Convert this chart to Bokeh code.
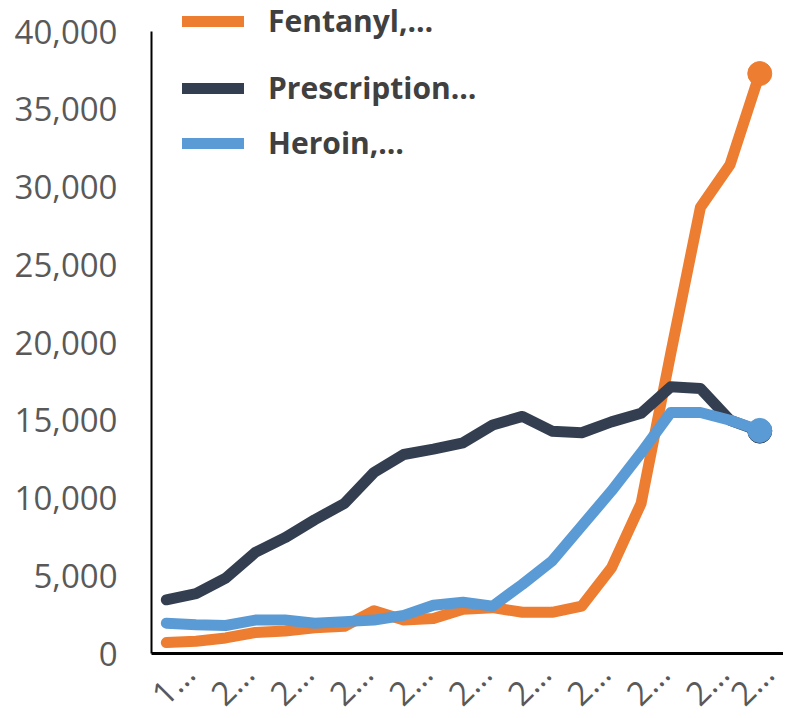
from bokeh.plotting import figure
from bokeh.models import Range1d, FixedTicker, Legend, LegendItem, NumeralTickFormatter
from bokeh.embed import file_html
from bokeh.resources import INLINE
import math

years = list(range(1999, 2020))
fentanyl = [700, 790, 1000, 1350, 1450, 1650, 1750, 2750, 2150, 2250, 2850,
            2950, 2650, 2650, 3050, 5500, 9650, 19300, 28700, 31450, 37300]
prescription = [3450, 3850, 4850, 6500, 7450, 8600, 9650, 11650, 12800, 13150, 13550,
                14700, 15250, 14300, 14200, 14900, 15450, 17150, 17050, 15000, 14300]
heroin = [1950, 1850, 1800, 2150, 2150, 1950, 2050, 2150, 2450, 3100, 3300,
          3050, 4450, 5950, 8200, 10450, 12900, 15500, 15500, 15000, 14350]
series_names = ["Fentanyl,…", "Prescription…", "Heroin,…"]
colors = ["#ED7D31", "#333F50", "#5B9BD5"]
tick_years = list(range(1999, 2020, 2))
tick_text = [str(y)[0] + "…" for y in tick_years]
y_ticks = list(range(0, 40001, 5000))

# rotated labels are centred under their category, as in the original
label_shift = 0.75
tick_pos = [y + label_shift for y in tick_years]

p = figure(frame_width=632, frame_height=653, output_backend="svg", toolbar_location=None,
           x_range=Range1d(1998.5, 2019.8), y_range=Range1d(0, 42000),
           min_border_left=151, min_border_right=0, min_border_top=0, min_border_bottom=55)
p.outline_line_color = None
p.xgrid.visible = False
p.ygrid.visible = False
p.background_fill_color = "white"
p.border_fill_color = "white"

# axes
p.yaxis.ticker = FixedTicker(ticks=y_ticks)
p.yaxis.bounds = (0, 40000)
p.yaxis.formatter = NumeralTickFormatter(format="0,0")
p.yaxis.axis_line_color = "black"
p.yaxis.axis_line_width = 2
p.yaxis.major_tick_line_color = None
p.yaxis.minor_tick_line_color = None
p.yaxis.major_label_text_font = "Open Sans"
p.yaxis.major_label_text_font_size = "33px"
p.yaxis.major_label_text_color = "#595959"
p.yaxis.major_label_standoff = 28

p.xaxis.ticker = FixedTicker(ticks=tick_pos)
p.xaxis.major_label_overrides = {t: s for t, s in zip(tick_pos, tick_text)}
p.xaxis.axis_line_color = "black"
p.xaxis.axis_line_width = 3
p.xaxis.major_tick_line_color = None
p.xaxis.minor_tick_line_color = None
p.xaxis.major_label_text_font = "Open Sans"
p.xaxis.major_label_text_font_size = "33px"
p.xaxis.major_label_text_color = "#595959"
p.xaxis.major_label_orientation = math.pi / 4
p.xaxis.major_label_standoff = 8

renderers = []
for vals, col in zip([fentanyl, prescription, heroin], colors):
    r = p.line(years, vals, line_color=col, line_width=11, line_cap="round", line_join="round")
    p.scatter([years[-1]], [vals[-1]], size=24, fill_color=col, line_color=col)
    renderers.append(r)

# legend items, each placed separately; location = bottom-left in frame pixels
legend_bottoms = [612, 545, 490]
for name, r, bottom in zip(series_names, renderers, legend_bottoms):
    lg = Legend(items=[LegendItem(label=name, renderers=[r])], location=(31, bottom),
                padding=0, margin=0, border_line_color=None, background_fill_alpha=0,
                glyph_width=62, glyph_height=34, label_height=34, label_standoff=24,
                label_text_font="Open Sans", label_text_font_style="bold",
                label_text_font_size="30px", label_text_color="#404040")
    p.add_layout(lg, "center")

open("out.html", "w").write(file_html(p, INLINE))
